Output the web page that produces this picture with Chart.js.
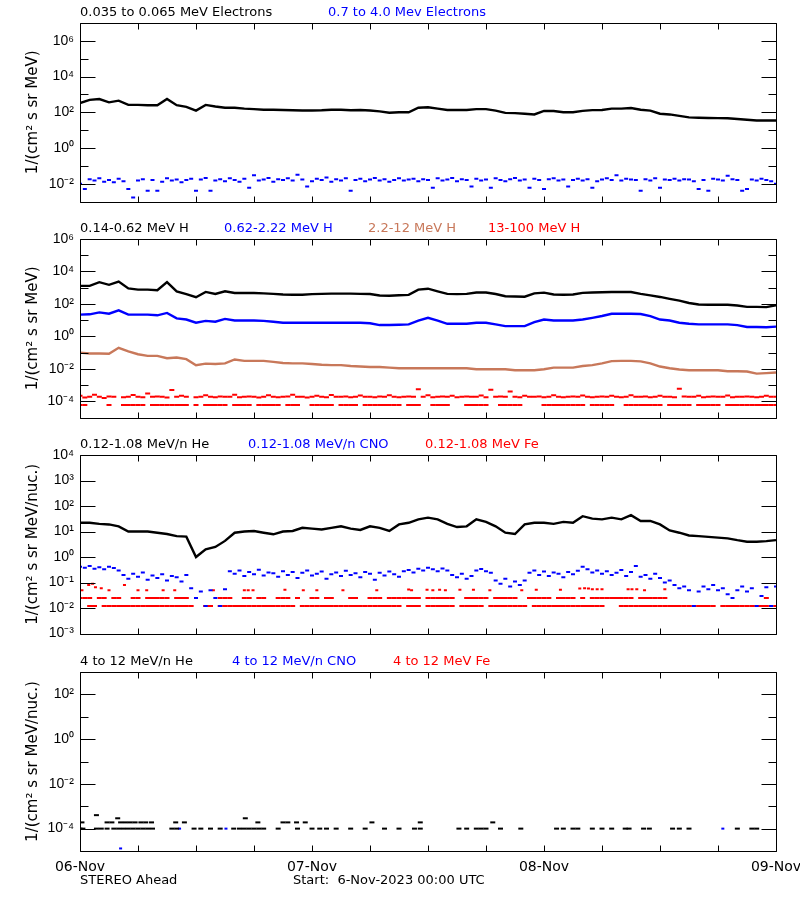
<!DOCTYPE html>
<html><head><meta charset="utf-8">
<script src="https://cdn.jsdelivr.net/npm/chart.js@4.4.0/dist/chart.umd.min.js"></script>
<style>
html,body{margin:0;padding:0;background:#fff;}
#wrap{position:relative;width:800px;height:900px;background:#fff;}
canvas{position:absolute;left:0;display:block;}
</style></head><body>
<div id="wrap">
<canvas id="c1" width="800" height="216" style="top:0px"></canvas>
<canvas id="c2" width="800" height="216" style="top:216px"></canvas>
<canvas id="c3" width="800" height="216" style="top:432px"></canvas>
<canvas id="c4" width="800" height="252" style="top:648px"></canvas>
</div>
<script>
// ---------- time axis ----------
const xTickHours = [0,6,12,18,24,30,36,42,48,54,60,66,72];
const dayTickHours = [0,24,48,72];
const dayLabels = ['06-Nov','07-Nov','08-Nov','09-Nov'];
const footerLeft = 'STEREO Ahead';
const footerStart = 'Start:  6-Nov-2023 00:00 UTC';

// ---------- panel 1 : electrons (hourly / half-hourly) ----------
const p1Titles = ['0.035 to 0.065 MeV Electrons','0.7 to 4.0 Mev Electrons'];
const p1LowE = [330,500,550,360,450,260,260,250,250,560,
  250,200,125,260,210,180,180,160,150,140,
  140,135,130,125,125,130,140,140,130,135,
  125,112,95,100,100,180,190,160,135,135,
  135,150,150,125,93,90,83,76,120,118,
  100,100,120,132,135,160,160,175,140,125,
  83,76,63,52,50,48,47,46,42,38,
  35,35,35];
const p1HighE = [0.010,0.005,0.018,0.015,0.020,0.013,0.016,0.012,0.019,0.014,
  0.005,0.0017,0.015,0.018,0.004,0.016,0.004,0.013,0.020,0.015,
  0.017,0.012,0.016,0.019,0.004,0.017,0.021,0.004,0.015,0.018,
  0.014,0.020,0.016,0.013,0.019,0.006,0.030,0.015,0.017,0.021,
  0.013,0.018,0.016,0.020,0.015,0.032,0.017,0.007,0.014,0.019,
  0.016,0.022,0.013,0.018,0.015,0.020,0.004,0.016,0.019,0.014,
  0.017,0.021,0.015,0.018,0.013,0.016,0.020,0.015,0.017,0.019,
  0.014,0.018,0.016,0.006,0.020,0.015,0.017,0.021,0.014,0.018,
  0.016,0.007,0.019,0.015,0.017,0.006,0.020,0.016,0.014,0.018,
  0.021,0.015,0.017,0.006,0.019,0.016,0.005,0.018,0.020,0.015,
  0.017,0.007,0.016,0.019,0.015,0.018,0.006,0.014,0.017,0.020,
  0.016,0.030,0.015,0.019,0.017,0.016,0.004,0.018,0.015,0.020,
  0.006,0.017,0.016,0.019,0.015,0.018,0.017,0.014,0.005,0.016,
  0.004,0.019,0.017,0.015,0.028,0.018,0.016,0.004,0.005,0.017,
  0.015,0.019,0.016,0.014,0.010];

// ---------- panel 2 : protons ----------
const p2Titles = ['0.14-0.62 MeV H','0.62-2.22 MeV H','2.2-12 MeV H','13-100 MeV H'];
const p2H1 = [1300,1300,2200,1500,2400,900,760,760,700,2200,
  600,400,260,550,410,600,470,470,470,450,
  420,380,370,370,400,420,430,430,430,420,
  410,330,320,340,360,760,870,600,420,400,
  420,510,510,410,300,290,280,450,500,380,
  370,380,480,510,520,540,540,540,420,340,
  270,205,160,115,92,90,90,90,80,66,
  66,64,83];
const p2H2 = [22,23,30,25,40,22,22,22,20,28,
  13,11,7,9,8,12,9.5,9.5,9.5,9,
  8,7,7,7,7,7,7,7,7,7,
  6.5,5,5,5.2,5.5,9.5,14,9.5,6,6,
  6,7,7,5.5,4.3,4.3,4.3,7.5,11,9.5,
  9.5,9.5,11,14,18,25,25,25,24,18,
  11,9.5,7,6,5.5,5.5,5.5,5.5,5,3.8,
  3.8,3.7,4];
const p2H3 = [0.1,0.088,0.088,0.085,0.2,0.12,0.08,0.063,0.063,0.045,
  0.05,0.04,0.017,0.021,0.02,0.022,0.038,0.031,0.031,0.031,
  0.027,0.023,0.022,0.022,0.02,0.018,0.017,0.017,0.015,0.014,
  0.013,0.013,0.012,0.011,0.011,0.011,0.011,0.011,0.011,0.011,
  0.011,0.0095,0.0095,0.0095,0.0095,0.0083,0.0083,0.0083,0.0095,0.012,
  0.012,0.012,0.015,0.017,0.022,0.03,0.031,0.031,0.029,0.022,
  0.014,0.011,0.0091,0.0083,0.0083,0.0083,0.0083,0.0072,0.0072,0.0069,
  0.0051,0.0055,0.006];
const p2H4Upper = [2.2e-4,1.7e-4,1.9e-4,2.6e-4,1.9e-4,1.6e-4,2.0e-4,1.9e-4,null,1.8e-4,
  1.9e-4,2.5e-4,1.9e-4,1.8e-4,3.0e-4,1.9e-4,2.0e-4,1.9e-4,1.7e-4,5.0e-4,
  1.9e-4,2.2e-4,1.9e-4,null,1.8e-4,1.9e-4,2.4e-4,1.9e-4,1.8e-4,2.0e-4,
  1.9e-4,1.9e-4,2.6e-4,1.8e-4,1.9e-4,2.0e-4,1.9e-4,1.7e-4,1.9e-4,2.4e-4,
  1.9e-4,1.8e-4,1.9e-4,2.0e-4,2.6e-4,1.9e-4,1.9e-4,1.7e-4,1.9e-4,2.2e-4,
  1.9e-4,1.8e-4,2.5e-4,1.9e-4,1.9e-4,2.0e-4,1.8e-4,1.9e-4,2.3e-4,1.9e-4,
  1.9e-4,1.8e-4,2.0e-4,1.9e-4,2.4e-4,1.9e-4,1.8e-4,1.9e-4,2.0e-4,1.9e-4,
  5.5e-4,1.9e-4,2.4e-4,1.8e-4,1.9e-4,2.0e-4,1.9e-4,2.2e-4,1.8e-4,1.9e-4,
  2.0e-4,1.9e-4,1.9e-4,2.3e-4,1.8e-4,5.2e-4,1.9e-4,2.0e-4,1.9e-4,4.0e-4,
  1.9e-4,1.8e-4,2.2e-4,1.9e-4,1.9e-4,2.0e-4,1.8e-4,1.9e-4,2.4e-4,1.9e-4,
  1.8e-4,1.9e-4,2.0e-4,1.9e-4,2.3e-4,1.9e-4,1.8e-4,1.9e-4,2.0e-4,1.9e-4,
  2.2e-4,1.9e-4,1.8e-4,1.9e-4,2.4e-4,1.9e-4,1.9e-4,2.0e-4,1.8e-4,1.9e-4,
  2.2e-4,1.9e-4,1.9e-4,1.8e-4,6.0e-4,2.0e-4,1.9e-4,1.9e-4,2.2e-4,1.8e-4,
  1.9e-4,2.0e-4,1.9e-4,1.9e-4,2.3e-4,1.8e-4,1.9e-4,1.9e-4,2.0e-4,1.9e-4,
  1.8e-4,1.9e-4,2.2e-4,1.9e-4,1.9e-4];
const p2H4Lower = [6e-5,6e-5,null,null,null,null,6e-5,null,null,6e-5,
  6e-5,6e-5,6e-5,6e-5,null,6e-5,6e-5,6e-5,6e-5,6e-5,
  6e-5,6e-5,6e-5,null,6e-5,null,6e-5,6e-5,6e-5,6e-5,
  6e-5,null,6e-5,6e-5,6e-5,6e-5,null,6e-5,6e-5,6e-5,
  6e-5,6e-5,null,6e-5,6e-5,6e-5,null,null,6e-5,6e-5,
  6e-5,6e-5,6e-5,null,6e-5,6e-5,6e-5,6e-5,null,6e-5,
  6e-5,6e-5,6e-5,6e-5,6e-5,6e-5,6e-5,null,6e-5,6e-5,
  6e-5,null,null,6e-5,6e-5,6e-5,6e-5,null,null,null,
  6e-5,6e-5,6e-5,6e-5,6e-5,null,null,6e-5,6e-5,6e-5,
  6e-5,6e-5,null,null,null,null,6e-5,6e-5,6e-5,6e-5,
  6e-5,6e-5,6e-5,6e-5,6e-5,null,6e-5,6e-5,6e-5,6e-5,
  6e-5,null,null,6e-5,6e-5,6e-5,6e-5,6e-5,6e-5,6e-5,
  6e-5,null,6e-5,6e-5,6e-5,6e-5,6e-5,null,6e-5,6e-5,
  6e-5,6e-5,6e-5,null,6e-5,6e-5,6e-5,6e-5,6e-5,6e-5,
  6e-5,6e-5,6e-5,6e-5,6e-5];

// ---------- panel 3 : 0.12-1.08 MeV/n heavy ions ----------
const p3Titles = ['0.12-1.08 MeV/n He','0.12-1.08 MeV/n CNO','0.12-1.08 MeV Fe'];
const p3He = [22,22,20,19,16,10,10,10,9,8,
  6.6,6.3,1.0,2,2.5,4.3,9,10,10.5,9,
  7.8,10,10.5,14,13,12,14,16,13,11.5,
  16,14,10.5,19,22,30,35,30,20,15,
  16,30,24,16,9,8,19,22,22,20,
  24,22,40,32,30,35,30,44,26,26,
  19,11,9,7,6.6,6.2,5.8,5.4,4.6,4,
  4,4.2,4.6];
const p3CNO = [0.42,0.38,0.45,0.35,0.40,0.33,0.42,0.37,0.30,
  0.20,0.14,0.22,0.17,0.25,0.13,0.19,0.15,0.21,0.12,0.18,0.16,0.11,0.20,
  0.06,0.025,0.045,0.012,0.05,0.025,0.012,0.055,
  0.28,0.22,0.30,0.18,0.26,0.21,0.32,0.19,0.25,0.23,0.17,0.28,0.20,0.26,0.15,0.24,0.30,0.19,
  0.22,0.27,0.14,0.21,0.25,0.18,0.29,0.20,0.23,0.16,0.26,0.22,0.13,0.24,0.19,0.27,0.21,0.17,
  0.28,0.31,0.25,0.35,0.30,0.38,0.33,0.28,0.36,0.30,
  0.20,0.16,0.22,0.14,0.18,0.30,
  0.34,0.28,0.24,
  0.12,0.09,0.14,0.07,0.11,0.08,0.12,
  0.24,0.30,0.20,0.27,0.18,0.25,0.22,0.16,0.26,0.21,0.29,0.42,0.33,0.25,0.30,0.22,
  0.28,0.20,0.24,0.31,0.18,0.26,0.45,
  0.17,0.20,0.14,0.22,0.15,
  0.10,0.12,0.08,
  0.06,0.07,0.05,0.012,0.045,0.07,0.055,0.08,0.05,0.06,0.035,0.025,0.05,0.07,0.045,0.06,0.012,0.03,0.065,0.012,0.07];
const p3FeLow = [null,null,0.012,0.012,null,0.012,0.012,0.012,0.012,0.012,
  0.012,0.012,0.012,0.012,0.012,0.012,0.012,0.012,0.012,0.012,
  0.012,0.012,0.012,0.012,null,null,0.012,0.012,null,0.012,
  0.012,0.012,0.012,0.012,0.012,0.012,0.012,0.012,0.012,0.012,
  0.012,0.012,0.012,0.012,0.012,null,0.012,0.012,0.012,0.012,
  0.012,0.012,0.012,0.012,0.012,0.012,0.012,0.012,0.012,0.012,
  0.012,0.012,0.012,0.012,0.012,0.012,0.012,null,0.012,0.012,
  0.012,null,0.012,0.012,0.012,0.012,0.012,0.012,null,0.012,
  0.012,0.012,0.012,0.012,null,0.012,0.012,0.012,0.012,0.012,
  0.012,0.012,0.012,null,0.012,0.012,0.012,0.012,0.012,0.012,
  0.012,0.012,0.012,0.012,0.012,0.012,0.012,0.012,0.012,null,
  null,null,0.012,0.012,0.012,0.012,0.012,0.012,0.012,0.012,
  0.012,0.012,0.012,0.012,0.012,0.012,0.012,0.012,0.012,0.012,
  0.012,0.012,null,0.012,0.012,0.012,0.012,0.012,0.012,0.012,
  0.012,0.012,0.012,0.012,0.012];
const p3FeMid = [0.025,0.025,0.025,null,0.025,0.025,null,0.025,0.025,null,
  null,0.025,0.025,null,0.025,0.025,0.025,0.025,0.025,null,
  0.025,0.025,0.025,null,null,null,null,null,null,0.025,
  0.025,0.025,null,null,0.025,0.025,null,0.025,0.025,null,
  null,0.025,0.025,0.025,null,0.025,null,null,0.025,0.025,
  null,0.025,0.025,null,null,null,0.025,0.025,null,null,
  0.025,0.025,0.025,null,0.025,0.025,0.025,0.025,0.025,0.025,
  0.025,null,0.025,0.025,0.025,0.025,0.025,0.025,null,null,
  0.025,0.025,0.025,0.025,0.025,null,0.025,0.025,0.025,0.025,
  0.025,null,null,0.025,0.025,0.025,0.025,0.025,null,0.025,
  0.025,0.025,0.025,null,0.025,null,0.025,0.025,0.025,0.025,
  0.025,0.025,0.025,0.025,0.025,null,0.025,0.025,0.025,0.025,
  0.025,0.025,null,null,null,null,null,null,null,null,
  null,null,null,null,null,null,null,null,null,null,
  null,null,0.025,null,null];
const p3FeHighTimes = [0.2,0.9,1.3,1.6,2.2,3,4.6,6,6.9,8.6,9.8,13.8,17,17.4,17.9,21.2,23.1,24.5,27.2,30.7,
  34,34.3,35.9,36.5,37.2,37.8,39.3,40.7,42.4,45.7,47.2,49.7,51.7,52.2,52.6,53,53.5,54,56.7,57.1,57.6,58.4,60.5];
const p3FeHighValues = [0.05,0.08,0.09,0.065,0.06,0.05,0.08,0.05,0.05,0.05,0.05,0.05,0.05,0.05,0.05,0.052,0.05,0.05,0.05,0.05,
  0.053,0.05,0.052,0.05,0.052,0.05,0.052,0.052,0.05,0.05,0.052,0.052,0.058,0.06,0.058,0.055,0.055,0.055,0.055,0.055,0.055,0.05,0.055];

// ---------- panel 4 : 4-12 MeV/n heavy ions (sparse) ----------
const p4Titles = ['4 to 12 MeV/n He','4 to 12 MeV/n CNO','4 to 12 MeV Fe'];
const p4HeTimes = [0,0.2,0.3,1.7,1.7,2.2,2.8,2.8,3.3,3.5,3.9,4,4.2,4.5,4.7,5,5.2,5.5,5.7,6,6.3,6.5,6.8,7,7.4,7.5,
  9.5,9.9,10,10.8,11.8,12.5,13.5,14.5,15.9,16.5,17,17.1,17.5,18,18.4,18.5,19,20.5,21,21.5,22.4,22.5,23.3,
  24,24.8,25.5,26.5,28,29.5,30.2,31.5,33,34.6,35.2,35.2,39.2,40,41,41.5,42,42.7,43.5,45.6,49.3,50,51,51.5,
  53,54,55,56.4,56.8,58.3,58.9,61.3,62,63,68,69.5,70];
const p4HeValues = [1e-4,1.9e-4,1e-4,4e-4,1e-4,1e-4,1e-4,1.9e-4,1.9e-4,1e-4,2.9e-4,1e-4,1.9e-4,1e-4,1.9e-4,1e-4,1.9e-4,1e-4,1.9e-4,1e-4,1.9e-4,1e-4,1.9e-4,1e-4,1.9e-4,1e-4,
  1e-4,1.9e-4,1e-4,1.9e-4,1e-4,1e-4,1e-4,1e-4,1e-4,1e-4,1e-4,2.9e-4,1e-4,1e-4,1.9e-4,1e-4,1e-4,1e-4,1.9e-4,1.9e-4,1.9e-4,1e-4,1.9e-4,
  1e-4,1e-4,1e-4,1e-4,1e-4,1e-4,1.9e-4,1e-4,1e-4,1e-4,1e-4,1.9e-4,1e-4,1e-4,1e-4,1e-4,1e-4,1.9e-4,1e-4,1e-4,1e-4,1e-4,1e-4,1e-4,
  1e-4,1e-4,1e-4,1e-4,1e-4,1e-4,1e-4,1e-4,1e-4,1e-4,1e-4,1e-4,1e-4];
const p4CNOTimes = [4.2,10.3,15.1,66.5];
const p4CNOValues = [1.3e-5,1e-4,1e-4,1e-4];
const p4FeTimes = [];
const p4FeValues = [];

// ---------- helpers ----------
function stepSeries(values, stepHours){ return values.map((v,i)=>({x:i*stepHours, y:v})); }
function pairSeries(times, values){ return times.map((t,i)=>({x:t, y:values[i]})); }
const SUP = {'0':'\u2070','1':'\u00b9','2':'\u00b2','3':'\u00b3','4':'\u2074','5':'\u2075','6':'\u2076','7':'\u2077','8':'\u2078','9':'\u2079','-':'\u207b'};
function decadeLabel(v){ const e = String(Math.round(Math.log10(v))); return '10' + e.split('').map(c=>SUP[c]).join(''); }

const BLACK='#000000', BLUE='#0000ff', BROWN='#c8785a', RED='#ff0000';
function lineDs(label, data, color){ return {label, data, showLine:true, borderColor:color, backgroundColor:color, borderWidth:2.4, pointRadius:0, spanGaps:false}; }
function dotDs(label, data, color, r){ return {label, data, showLine:false, borderColor:color, backgroundColor:color, pointStyle:'line', pointRadius:r||2.5, pointBorderWidth:2, pointHoverRadius:0}; }

const framePlugin = {
  id:'frame',
  afterDraw(chart, args, o){
    const {ctx, chartArea:a, scales} = chart;
    const xs = scales.x, ys = scales.y;
    ctx.save();
    ctx.strokeStyle = '#000'; ctx.lineWidth = 1;
    ctx.beginPath();
    const L = Math.round(a.left)+0.5, R = Math.round(a.right)+0.5, T = Math.round(a.top)+0.5, B = Math.round(a.bottom)+0.5;
    ctx.rect(L, T, R-L, B-T);
    xTickHours.forEach(h=>{ const px = Math.round(xs.getPixelForValue(h))+0.5; ctx.moveTo(px,B); ctx.lineTo(px,B-6); ctx.moveTo(px,T); ctx.lineTo(px,T+6); });
    o.major.forEach(v=>{ const py = Math.round(ys.getPixelForValue(v))+0.5; ctx.moveTo(L,py); ctx.lineTo(L+15,py); ctx.moveTo(R,py); ctx.lineTo(R-15,py); });
    o.minor.forEach(v=>{ const py = Math.round(ys.getPixelForValue(v))+0.5; ctx.moveTo(L,py); ctx.lineTo(L+8,py); ctx.moveTo(R,py); ctx.lineTo(R-8,py); });
    ctx.stroke();
    ctx.font = '13px "DejaVu Sans"'; ctx.textBaseline = 'middle'; ctx.textAlign = 'left';
    o.titles.forEach((t,i)=>{ ctx.fillStyle = o.titleColors[i]; ctx.fillText(t, o.titleX[i], a.top - 10); });
    if (o.footer) {
      ctx.fillStyle = '#000';
      ctx.fillText(footerLeft, a.left, a.bottom + 30);
      ctx.fillText(footerStart, 293, a.bottom + 30);
    }
    ctx.restore();
  }
};

function makePanel(id, cfg){
  const yTicks = cfg.major.concat(cfg.minor).sort((p,q)=>p-q);
  return new Chart(document.getElementById(id), {
    type:'scatter',
    data:{datasets: cfg.datasets},
    plugins:[framePlugin],
    options:{
      responsive:false, animation:false, events:[],
      layout:{padding:{left:0,right:24,top:cfg.padTop,bottom:cfg.padBottom}},
      plugins:{legend:{display:false}, tooltip:{enabled:false},
        frame:{major:cfg.major, minor:cfg.minor, titles:cfg.titles, titleColors:cfg.titleColors, titleX:cfg.titleX, footer:!!cfg.footer}},
      scales:{
        x:{type:'linear', min:0, max:72, display:!!cfg.footer, position:'bottom',
           grid:{display:false, drawTicks:false}, border:{display:false},
           afterBuildTicks(s){ s.ticks = dayTickHours.map(v=>({value:v})); },
           afterFit(s){ s.height = cfg.footer ? 49 : 0; s.paddingLeft = 0; s.paddingRight = 0; },
           ticks:{autoSkip:false, maxRotation:0, padding:8, color:'#000', font:{family:'DejaVu Sans', size:14},
             callback:(v)=>{ const k = dayTickHours.indexOf(v); return k>=0 ? dayLabels[k] : ''; }}},
        y:{type:'logarithmic', min:cfg.yMin, max:cfg.yMax, position:'left',
           grid:{display:false, drawTicks:false}, border:{display:false},
           afterBuildTicks(s){ s.ticks = yTicks.map(v=>({value:v})); },
           afterFit(s){ s.width = 80; },
           ticks:{autoSkip:false, padding:6, color:'#000', font:{family:'Liberation Sans', size:14},
             callback:(v)=> cfg.major.some(m=>Math.abs(Math.log10(m)-Math.log10(v))<1e-6) ? decadeLabel(v) : ''},
           title:{display:true, text:cfg.yTitle, color:'#000', font:{family:'DejaVu Sans', size:15}, padding:{top:24,bottom:0}}}
      }
    }
  });
}

makePanel('c1', {
  yMin:1e-3, yMax:1e7, major:[1e-2,1,1e2,1e4,1e6], minor:[1e-3,1e-1,10,1e3,1e5,1e7],
  padTop:23, padBottom:13, yTitle:'1/(cm\u00b2 s sr MeV)',
  titles:p1Titles, titleColors:[BLACK,BLUE], titleX:[80,328],
  datasets:[ lineDs(p1Titles[0], stepSeries(p1LowE,1), BLACK), dotDs(p1Titles[1], stepSeries(p1HighE,0.5), BLUE, 2) ]
});
makePanel('c2', {
  yMin:1e-5, yMax:1e6, major:[1e-4,1e-2,1,1e2,1e4,1e6], minor:[1e-5,1e-3,1e-1,10,1e3,1e5],
  padTop:23, padBottom:13, yTitle:'1/(cm\u00b2 s sr MeV)',
  titles:p2Titles, titleColors:[BLACK,BLUE,BROWN,RED], titleX:[80,224,368,488],
  datasets:[ lineDs(p2Titles[0], stepSeries(p2H1,1), BLACK), lineDs(p2Titles[1], stepSeries(p2H2,1), BLUE),
    lineDs(p2Titles[2], stepSeries(p2H3,1), BROWN),
    dotDs(p2Titles[3], stepSeries(p2H4Upper,0.5), RED, 2.5), dotDs(p2Titles[3], stepSeries(p2H4Lower,0.5), RED, 2.5) ]
});
makePanel('c3', {
  yMin:1e-3, yMax:1e4, major:[1e-3,1e-2,1e-1,1,10,1e2,1e3,1e4], minor:[],
  padTop:23, padBottom:13, yTitle:'1/(cm\u00b2 s sr MeV/nuc.)',
  titles:p3Titles, titleColors:[BLACK,BLUE,RED], titleX:[80,248,425],
  datasets:[ lineDs(p3Titles[0], stepSeries(p3He,1), BLACK), dotDs(p3Titles[1], stepSeries(p3CNO,0.5), BLUE, 2),
    dotDs(p3Titles[2], stepSeries(p3FeLow,0.5), RED, 2.5), dotDs(p3Titles[2], stepSeries(p3FeMid,0.5), RED, 2.5),
    dotDs(p3Titles[2], pairSeries(p3FeHighTimes,p3FeHighValues), RED, 1.5) ]
});
makePanel('c4', {
  yMin:1e-5, yMax:1e3, major:[1e-4,1e-2,1,1e2], minor:[1e-5,1e-3,1e-1,10,1e3],
  padTop:24, padBottom:0, yTitle:'1/(cm\u00b2 s sr MeV/nuc.)', footer:true,
  titles:p4Titles, titleColors:[BLACK,BLUE,RED], titleX:[80,232,393],
  datasets:[ dotDs(p4Titles[0], pairSeries(p4HeTimes,p4HeValues), BLACK, 2.5), dotDs(p4Titles[1], pairSeries(p4CNOTimes,p4CNOValues), BLUE, 1.5),
    dotDs(p4Titles[2], pairSeries(p4FeTimes,p4FeValues), RED, 1.5) ]
});
</script>
</body></html>
